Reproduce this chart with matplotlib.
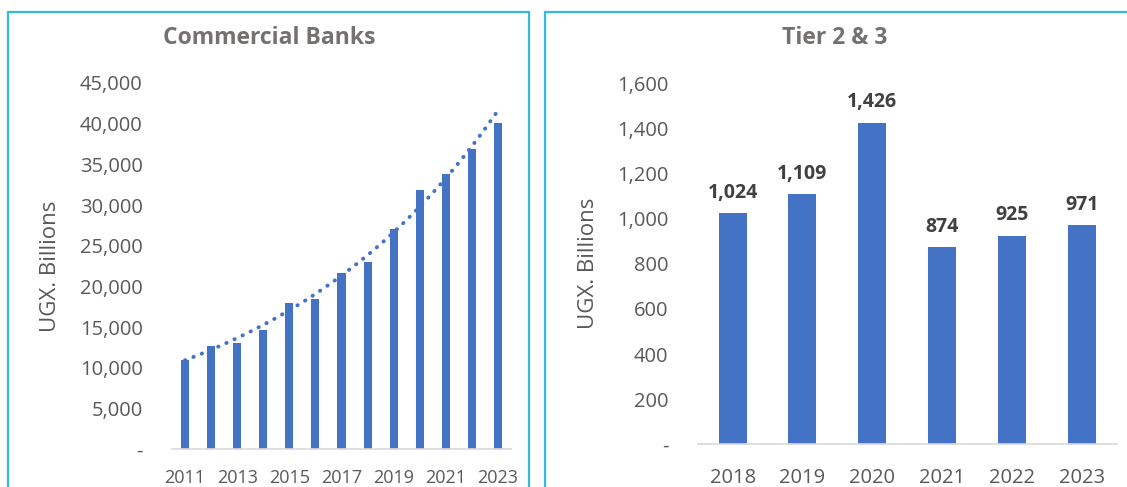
import numpy as np
import matplotlib
matplotlib.use("Agg")
import matplotlib.pyplot as plt
from matplotlib.patches import Rectangle
from matplotlib.ticker import FuncFormatter

# Commercial banks (UGX billions)
cb_years = [str(y) for y in range(2011, 2024)]
cb_values = [10970, 12690, 13100, 14690, 17970, 18430, 21650,
             22970, 27100, 31860, 33780, 36930, 40050]

# Tier 2 & 3 institutions (UGX billions)
t23_years = ["2018", "2019", "2020", "2021", "2022", "2023"]
t23_values = [1024, 1109, 1426, 874, 925, 971]

BAR = "#4472C4"
TICK = "#595959"
TITLE = "#767171"
LABEL = "#404040"
BORDER = "#35B8E2"
AXIS = "#D9D9D9"

plt.rcParams["font.family"] = ["Open Sans", "DejaVu Sans"]

W, H = 1127, 487
fig = plt.figure(figsize=(W / 100, H / 100), dpi=100)


def fx(px):
    return px / W


def fy(py):
    return 1 - py / H


# Panel frames
fig.patches.append(Rectangle((fx(8), fy(500)), fx(529 - 8), fy(12) - fy(500),
                             transform=fig.transFigure, fill=False,
                             edgecolor=BORDER, linewidth=1.6))
fig.patches.append(Rectangle((fx(545), fy(500)), fx(1140 - 545), fy(12) - fy(500),
                             transform=fig.transFigure, fill=False,
                             edgecolor=BORDER, linewidth=1.6))


def thousands(v, _):
    return "-" if abs(v) < 1e-9 else f"{v:,.0f}"


def style_axes(ax):
    for s in ("top", "right", "left"):
        ax.spines[s].set_visible(False)
    ax.spines["bottom"].set_color(AXIS)
    ax.spines["bottom"].set_linewidth(1.2)
    ax.tick_params(axis="both", length=0, colors=TICK)
    ax.yaxis.set_major_formatter(FuncFormatter(thousands))
    ax.set_facecolor("none")


# Left: commercial banks with exponential trend
ax1 = fig.add_axes([fx(172), fy(449.3), fx(339), (449.3 - 83) / H])
x1 = np.arange(len(cb_years))
ax1.bar(x1, cb_values, width=0.31, color=BAR, zorder=2)
coef = np.polyfit(x1, np.log(cb_values), 1)
xt = np.linspace(0, len(cb_years) - 1, 200)
ax1.plot(xt, np.exp(np.polyval(coef, xt)), color=BAR, linewidth=2.8,
         linestyle=(0, (0.1, 2.2)), dash_capstyle="round", zorder=3)
ax1.set_xlim(-0.5, len(cb_years) - 0.5)
ax1.set_ylim(0, 45000)
ax1.set_yticks(np.arange(0, 45001, 5000))
ax1.set_xticks(x1[::2])
ax1.set_xticklabels(cb_years[::2])
style_axes(ax1)
ax1.tick_params(axis="y", labelsize=14.5, pad=21)
ax1.tick_params(axis="x", labelsize=13, pad=14.5)
ax1.set_ylabel("UGX. Billions", fontsize=16, color=TICK)
ax1.yaxis.set_label_coords((61 - 172) / 339, 0.5)
fig.text(fx(269), fy(38.5), "Commercial Banks", ha="center", va="center",
         fontsize=16.5, fontweight="bold", color=TITLE)

# Right: tier 2 & 3 with value labels
ax2 = fig.add_axes([fx(697.7), fy(444.3), fx(419), (444.3 - 83.3) / H])
x2 = np.arange(len(t23_years))
bars = ax2.bar(x2, t23_values, width=0.4, color=BAR, zorder=2)
for b, v in zip(bars, t23_values):
    ax2.annotate(f"{v:,}", (b.get_x() + b.get_width() / 2, v),
                 xytext=(0, 11), textcoords="offset points",
                 ha="center", va="baseline", fontsize=14,
                 fontweight="bold", color=LABEL)
ax2.set_xlim(-0.5, len(t23_years) - 0.5)
ax2.set_ylim(0, 1600)
ax2.set_yticks(np.arange(0, 1601, 200))
ax2.set_xticks(x2)
ax2.set_xticklabels(t23_years)
style_axes(ax2)
ax2.tick_params(axis="y", labelsize=14.5, pad=21)
ax2.tick_params(axis="x", labelsize=14.5, pad=17)
ax2.set_ylabel("UGX. Billions", fontsize=16, color=TICK)
ax2.yaxis.set_label_coords((599 - 697.7) / 419, 0.5)
fig.text(fx(835), fy(38.5), "Tier 2 & 3", ha="center", va="center",
         fontsize=16.5, fontweight="bold", color=TITLE)

fig.savefig("out.png", dpi=100, facecolor="white")
